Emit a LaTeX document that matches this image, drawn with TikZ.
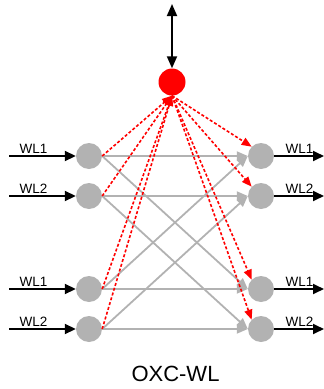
\documentclass[tikz,border=0pt]{standalone}
\usepackage{fontspec}
\setmainfont{Liberation Sans}
\usetikzlibrary{arrows.meta}
\begin{document}
\begin{tikzpicture}[x=1pt,y=-1pt,
  sw/.style={circle,fill=gray!60,minimum size=26pt,inner sep=0pt},
  ctl/.style={circle,fill=red,minimum size=27pt,inner sep=0pt},
  io/.style={black,line width=1.8pt,-{Triangle[length=11pt,width=10pt]}},
  fab/.style={gray!60,line width=1.8pt,-{Triangle[length=11pt,width=9pt]}},
  sig/.style={red,line width=1.6pt,dash pattern=on 3pt off 2pt,-{Triangle[length=10pt,width=8pt]}},
  wl/.style={font=\fontsize{13.5}{15}\selectfont,inner sep=0pt,anchor=base}]
\useasboundingbox (0,0) rectangle (324,389);
% nodes
\node[ctl] (c) at (172,82) {};
\coordinate (top) at (172,4);
\node[sw] (l1) at (89,156) {};
\node[sw] (l2) at (89,196) {};
\node[sw] (l3) at (89,289) {};
\node[sw] (l4) at (89,329) {};
\node[sw] (r1) at (261,156) {};
\node[sw] (r2) at (261,196) {};
\node[sw] (r3) at (261,289) {};
\node[sw] (r4) at (261,329) {};
\foreach \i/\y in {1/156,2/196,3/289,4/329}{
  \coordinate (in\i) at (9,\y);
  \coordinate (out\i) at (324,\y);
}
% top bidirectional arrow
\draw[black,line width=1.8pt,{Triangle[length=12pt,width=10pt]}-{Triangle[length=12pt,width=10pt]}] (top) -- (c.north);
% fabric
\draw[fab] (l1.east) -- (r1.west);
\draw[fab] (l2.east) -- (r2.west);
\draw[fab] (l3.east) -- (r3.west);
\draw[fab] (l4.east) -- (r4.west);
\draw[fab] (l1.east) -- (r3.west);
\draw[fab] (l2.east) -- (r4.west);
\draw[fab] (l3.east) -- (r1.west);
\draw[fab] (l4.east) -- (r2.west);
% control signals
\foreach \n in {l1,l2,l3,l4}{
  \draw[sig] (\n.east) -- (c.south);
}
\foreach \n in {r1,r2,r3,r4}{
  \draw[sig] (c.south) -- (\n.north west);
}
% inputs / outputs
\foreach \i in {1,2,3,4}{
  \draw[io] (in\i) -- (l\i.west);
  \draw[io] (r\i.east) -- (out\i);
}
\node[wl] (a1) at (33.5,153) {WL1};
\node[wl] (a2) at (33.5,193) {WL2};
\node[wl] (a3) at (33.5,286) {WL1};
\node[wl] (a4) at (33.5,326) {WL2};
\node[wl] (b1) at (299.5,153) {WL1};
\node[wl] (b2) at (299.5,193) {WL2};
\node[wl] (b3) at (299.5,286) {WL1};
\node[wl] (b4) at (299.5,326) {WL2};
\node[font=\fontsize{22}{26}\selectfont,inner sep=0pt,anchor=base] (t) at (175.5,381) {OXC-WL};
\end{tikzpicture}
\end{document}
